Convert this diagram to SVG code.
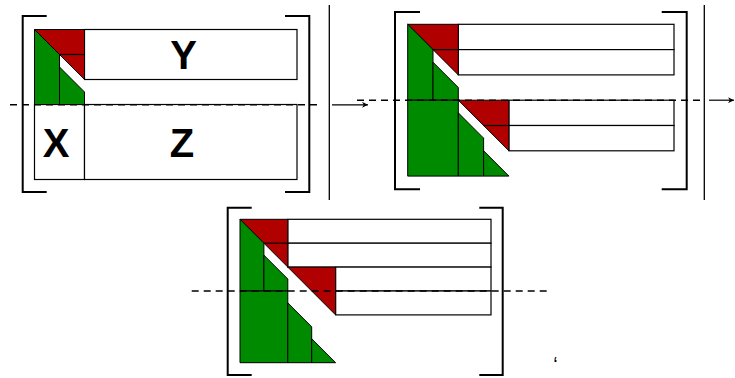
<svg xmlns="http://www.w3.org/2000/svg" width="735" height="378" viewBox="0 0 735 378">
<defs>
<style>
.bg{fill:#ffffff}
.box{fill:#ffffff;stroke:#000;stroke-width:1.2}
.red{fill:#b00000;stroke:#000;stroke-width:1}
.grn{fill:#008a00;stroke:#000;stroke-width:1}
.ln{stroke:#000;stroke-width:1.2;fill:none}
.brk{stroke:#000;stroke-width:2;fill:none}
.sep{stroke:#000;stroke-width:1.3;fill:none}
.dash{stroke:#000;stroke-width:1.4;fill:none;stroke-dasharray:7,5}
.arr{stroke:#000;stroke-width:1.2;fill:none;marker-end:url(#ah)}
.lbl{font-family:"Liberation Sans",Arial,sans-serif;font-weight:bold;font-size:40px;fill:#000;text-anchor:middle}
</style>
<marker id="ah" viewBox="0 0 10 10" refX="10" refY="5" markerWidth="8" markerHeight="6" markerUnits="userSpaceOnUse" orient="auto">
<path d="M0,0 L10,5 L0,10 L3,5 z" fill="#000"/>
</marker>
</defs>
<rect class="bg" x="0" y="0" width="735" height="378"/>

<g id="panel1">
<rect class="box" x="84.5" y="29.5" width="212.5" height="50"/>
<rect class="box" x="34.5" y="104.5" width="50" height="75"/>
<rect class="box" x="84.5" y="104.5" width="212.5" height="75"/>
<polygon class="red" points="34.5,29.5 84.5,29.5 84.5,79.5"/>
<line class="ln" x1="59.5" y1="54.5" x2="84.5" y2="54.5"/>
<polygon class="grn" points="34.5,29.5 59.5,54.5 59.5,104.5 34.5,104.5"/>
<polygon class="grn" points="59.5,67 84.5,92 84.5,104.5 59.5,104.5"/>
<text class="lbl" x="183.5" y="68.5">Y</text>
<text class="lbl" x="56" y="156.5">X</text>
<text class="lbl" x="182" y="156.5">Z</text>
<path class="brk" d="M46.7,16 H22.7 V192 H46.7"/>
<path class="brk" d="M285,16 H309.3 V192 H285"/>
</g>

<g id="panel2">
<rect class="box" x="458.3" y="24.3" width="215.7" height="25.3"/>
<rect class="box" x="458.3" y="49.6" width="215.7" height="25.3"/>
<rect class="box" x="508.9" y="100.2" width="165.1" height="25.3"/>
<rect class="box" x="508.9" y="125.5" width="165.1" height="25.3"/>
<polygon class="red" points="407.7,24.3 458.3,24.3 458.3,74.9"/>
<line class="ln" x1="433" y1="49.6" x2="458.3" y2="49.6"/>
<polygon class="red" points="458.3,100.2 508.9,100.2 508.9,150.8"/>
<line class="ln" x1="483.6" y1="125.5" x2="508.9" y2="125.5"/>
<polygon class="grn" points="407.7,24.3 433,49.6 433,100.2 407.7,100.2"/>
<polygon class="grn" points="433,62.25 458.3,87.55 458.3,100.2 433,100.2"/>
<polygon class="grn" points="407.7,100.2 458.3,100.2 458.3,176.1 407.7,176.1"/>
<polygon class="grn" points="458.3,112.85 483.6,138.15 483.6,176.1 458.3,176.1"/>
<polygon class="grn" points="483.6,150.8 508.9,176.1 483.6,176.1"/>
<path class="brk" d="M420,12 H395 V189.3 H420"/>
<path class="brk" d="M661.7,12 H686.7 V189.3 H661.7"/>
</g>

<g id="panel3">
<rect class="box" x="287.8" y="219.3" width="203.2" height="23.9"/>
<rect class="box" x="287.8" y="243.2" width="203.2" height="23.9"/>
<rect class="box" x="335.6" y="267.1" width="155.4" height="23.9"/>
<rect class="box" x="335.6" y="291" width="155.4" height="23.9"/>
<polygon class="red" points="240,219.3 287.8,219.3 287.8,267.1"/>
<line class="ln" x1="263.9" y1="243.2" x2="287.8" y2="243.2"/>
<polygon class="red" points="287.8,267.1 335.6,267.1 335.6,314.9"/>
<polygon class="grn" points="240,219.3 263.9,243.2 263.9,291 240,291"/>
<polygon class="grn" points="263.9,255.15 287.8,279.05 287.8,291 263.9,291"/>
<polygon class="grn" points="240,291 287.8,291 287.8,362.7 240,362.7"/>
<polygon class="grn" points="287.8,302.95 311.7,326.85 311.7,362.7 287.8,362.7"/>
<polygon class="grn" points="311.7,338.8 335.6,362.7 311.7,362.7"/>
<path class="brk" d="M251.7,207.7 H227.7 V375 H251.7"/>
<path class="brk" d="M479.3,207.7 H502.7 V375 H479.3"/>
<text x="555.5" y="371" font-family="Liberation Sans, Arial, sans-serif" font-size="20" text-anchor="middle" fill="#000">‘</text>
</g>

<g id="connectors">
<line class="dash" x1="10" y1="104.8" x2="322" y2="104.8"/>
<line class="sep" x1="329.3" y1="5" x2="329.3" y2="200"/>
<line class="arr" x1="332" y1="104.8" x2="368" y2="104.8"/>
<line class="dash" x1="357" y1="100.2" x2="700" y2="100.2"/>
<line class="sep" x1="704.3" y1="5" x2="704.3" y2="200"/>
<line class="arr" x1="709" y1="100.2" x2="734" y2="100.2"/>
<line class="dash" x1="191.7" y1="291" x2="551" y2="291"/>
</g>
</svg>
